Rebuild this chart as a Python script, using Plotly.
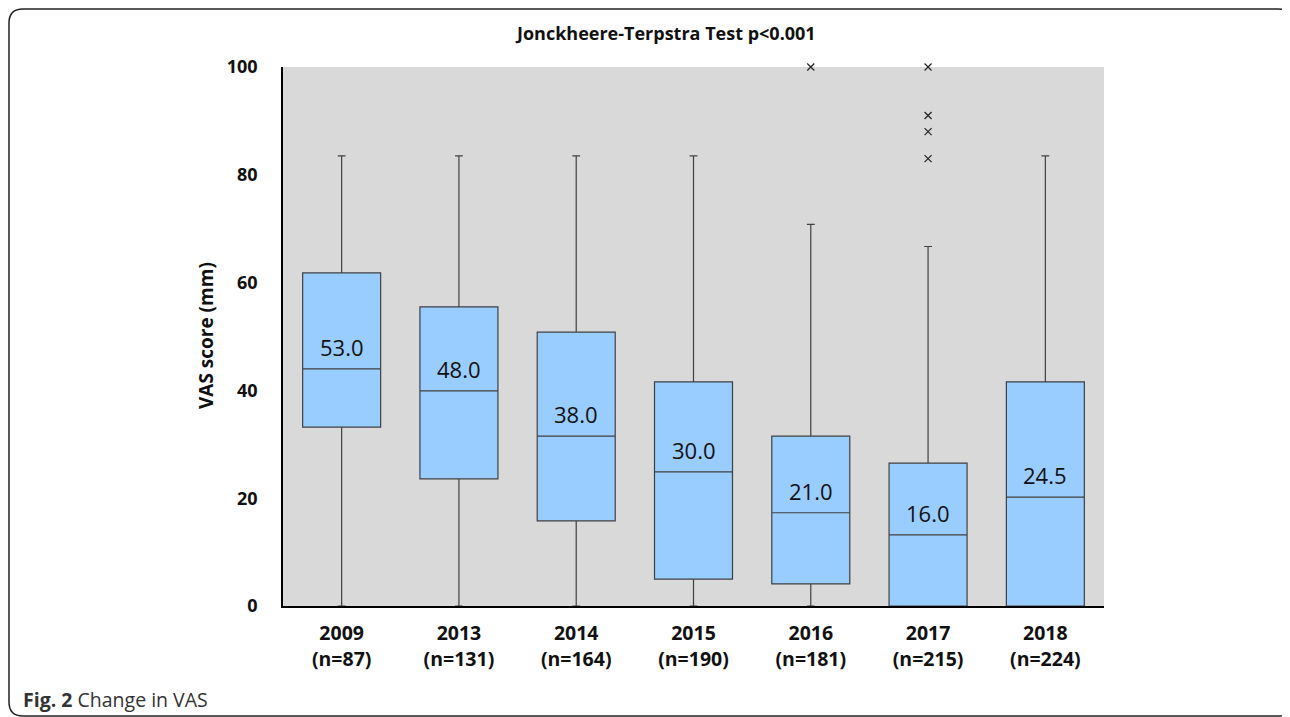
import plotly.graph_objects as go

categories = ["2009<br>(n=87)", "2013<br>(n=131)", "2014<br>(n=164)", "2015<br>(n=190)",
              "2016<br>(n=181)", "2017<br>(n=215)", "2018<br>(n=224)"]
q1 = [33.2, 23.6, 15.8, 5.0, 4.1, 0.0, 0.0]
median = [44.0, 39.9, 31.5, 24.9, 17.3, 13.2, 20.2]
q3 = [61.8, 55.5, 50.8, 41.6, 31.5, 26.5, 41.6]
lower_fence = [0, 0, 0, 0, 0, 0, 0]
upper_fence = [83.5, 83.5, 83.5, 83.5, 70.8, 66.7, 83.5]
mean_labels = ["53.0", "48.0", "38.0", "30.0", "21.0", "16.0", "24.5"]
outlier_x = ["2016<br>(n=181)", "2017<br>(n=215)", "2017<br>(n=215)", "2017<br>(n=215)", "2017<br>(n=215)"]
outlier_y = [100, 100, 91, 88, 83]

W, H = 1290, 717
OFF = 8  # page body margin
# plot area in page pixels
PL, PR, PT, PB = 283, 1104, 67, 606
L = PL - OFF
T = PT - OFF
R = W - (PR - OFF)
B = H - (PB - OFF)

FONT = "Open Sans, sans-serif"

fig = go.Figure()
fig.add_trace(go.Box(
    x=categories, q1=q1, median=median, q3=q3,
    lowerfence=lower_fence, upperfence=upper_fence,
    fillcolor="#99CCFF", line=dict(color="#404040", width=1.2),
    width=0.665, whiskerwidth=0.1, boxpoints=False, showlegend=False,
    hoverinfo="skip"))
fig.add_trace(go.Scatter(
    x=outlier_x, y=outlier_y, mode="markers",
    marker=dict(symbol="x-thin", size=7, line=dict(color="#222222", width=1.2)),
    showlegend=False, cliponaxis=False))

for c, m, t in zip(categories, median, mean_labels):
    fig.add_annotation(x=c, y=m, text=t, showarrow=False, yanchor="bottom", yshift=5,
                       font=dict(family=FONT, size=22, color="#111111"))

def px(xp):
    return (xp - PL) / (PR - PL)

def py(yp):
    return (PB - yp) / (PB - PT)

# rounded frame (page pixel coords)
x0, y0, x1, y1, r = 9, 9, 1292, 716, 14
path = (f"M {px(x0)},{py(y0 + r)} Q {px(x0)},{py(y0)} {px(x0 + r)},{py(y0)} "
        f"L {px(x1 - r)},{py(y0)} Q {px(x1)},{py(y0)} {px(x1)},{py(y0 + r)} "
        f"L {px(x1)},{py(y1 - r)} Q {px(x1)},{py(y1)} {px(x1 - r)},{py(y1)} "
        f"L {px(x0 + r)},{py(y1)} Q {px(x0)},{py(y1)} {px(x0)},{py(y1 - r)} Z")
fig.add_shape(type="path", path=path, xref="paper", yref="paper",
              line=dict(color="#222222", width=1.5))

fig.add_annotation(x=px(665), y=py(33), xref="paper", yref="paper", showarrow=False,
                   xanchor="center", yanchor="middle",
                   text="<b>Jonckheere-Terpstra Test p<0.001</b>",
                   font=dict(family=FONT, size=18, color="#111111"))
fig.add_annotation(x=px(21), y=py(699), xref="paper", yref="paper", showarrow=False,
                   xanchor="left", yanchor="middle", text="<b>Fig. 2</b> Change in VAS",
                   font=dict(family=FONT, size=19.5, color="#333333"))
fig.add_annotation(x=px(206), y=py(336), xref="paper", yref="paper", showarrow=False,
                   xanchor="center", yanchor="middle",
                   textangle=-90, text="<b>VAS score (mm)</b>",
                   font=dict(family=FONT, size=19, color="#111111"))

fig.update_layout(
    width=W, height=H,
    margin=dict(l=L, r=R, t=T, b=B),
    paper_bgcolor="white", plot_bgcolor="#D9D9D9",
    font=dict(family=FONT, color="#111111"),
    xaxis=dict(range=[-0.5, 6.5], showgrid=False, showline=True, linecolor="black",
               linewidth=1.5, ticks="", ticklabelstandoff=9,
               tickfont=dict(size=19.5, family=FONT, weight="bold")),
    yaxis=dict(range=[0, 100], tickvals=[0, 20, 40, 60, 80, 100], showgrid=False,
               zeroline=False, showline=True, linecolor="black", linewidth=1.5, ticks="",
               ticklabelstandoff=20,
               tickfont=dict(size=18, family=FONT, weight="bold")),
)

fig.write_html("out.html")
